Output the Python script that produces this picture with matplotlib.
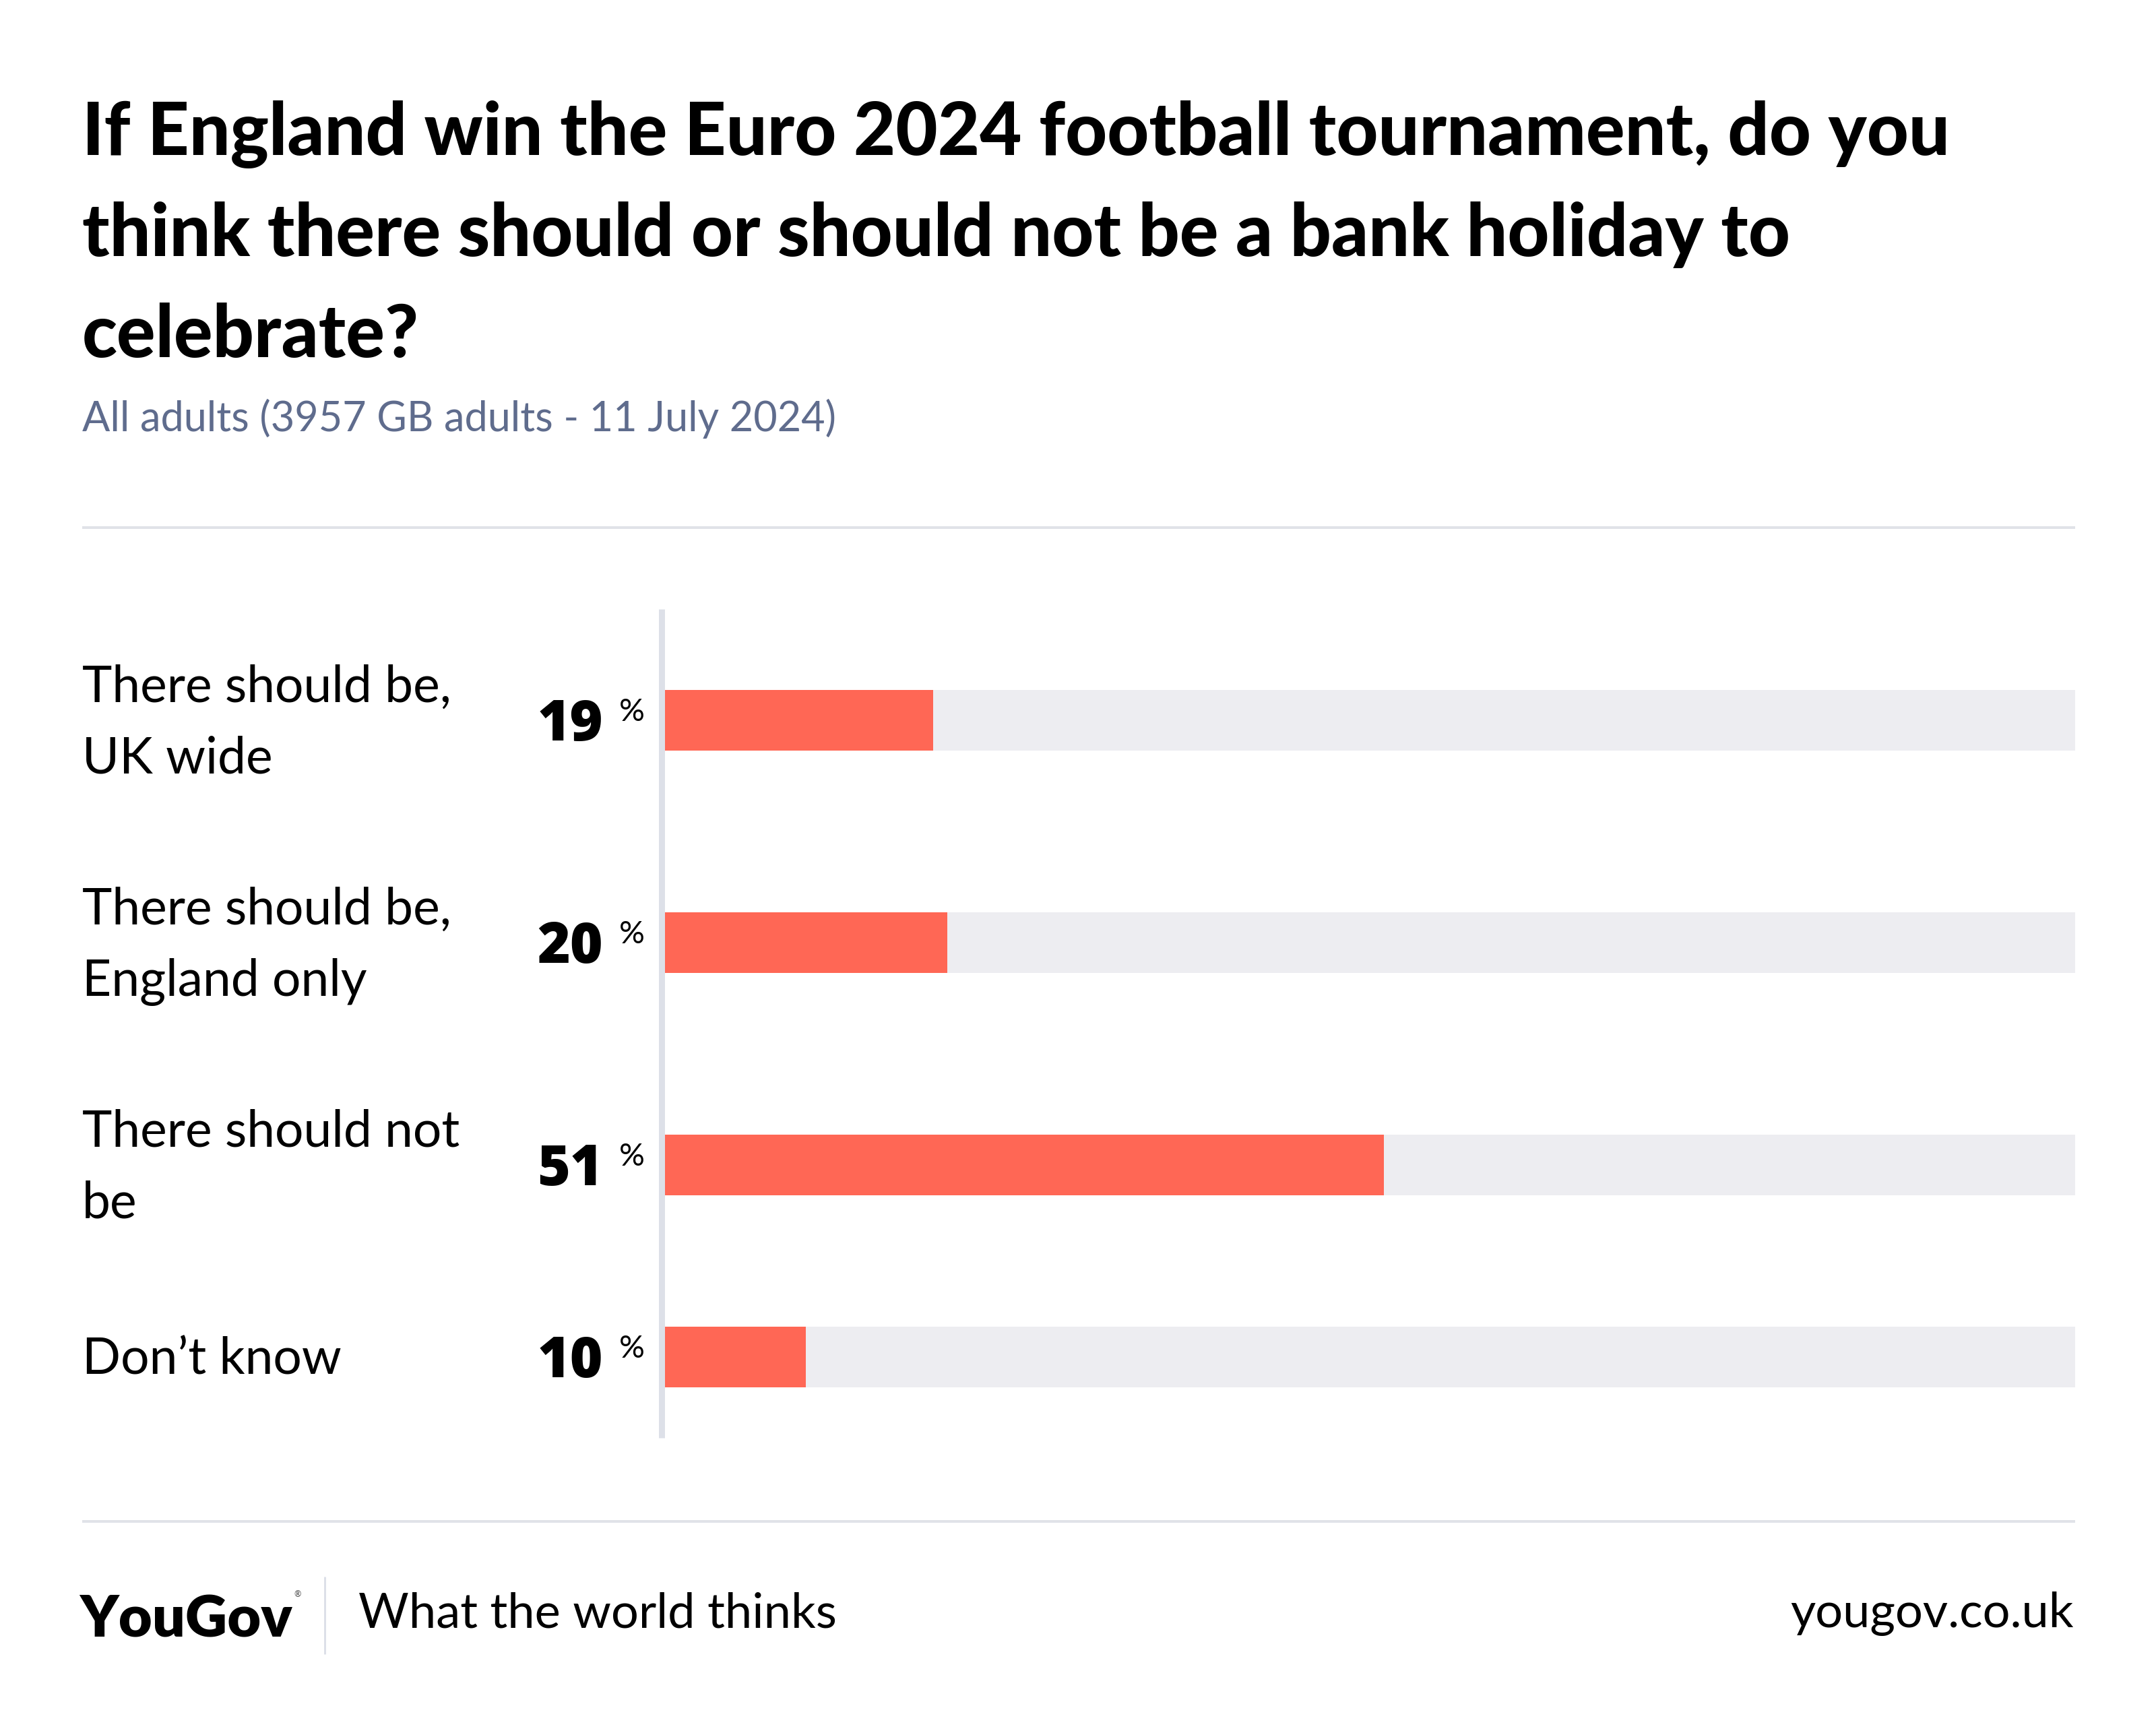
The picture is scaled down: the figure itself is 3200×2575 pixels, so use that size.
import matplotlib
matplotlib.use("Agg")
import matplotlib.pyplot as plt
from matplotlib.lines import Line2D
import numpy as np

# ---------------- data ----------------
categories = ["There should be,\nUK wide", "There should be,\nEngland only",
              "There should not\nbe", "Don\u2019t know"]
values = [19, 20, 51, 10]
title_lines = ["If England win the Euro 2024 football tournament, do you",
               "think there should or should not be a bank holiday to",
               "celebrate?"]
subtitle = "All adults (3957 GB adults - 11 July 2024)"
footer_left = "What the world thinks"
footer_right = "yougov.co.uk"
brand = "YouGov"

# ---------------- layout ----------------
W, H = 3200, 2575
DPI = 100
FONT = "Lato"
NUM_FONT = ["Open Sans", "Lato"]
BAR_COLOR = "#ff6755"
BG_COLOR = "#ededf1"
LINE_COLOR = "#e0e2e8"
SUB_COLOR = "#5f6c8d"

fig = plt.figure(figsize=(W / DPI, H / DPI), dpi=DPI)
fig.patch.set_facecolor("white")

def fx(px):
    return px / W

def fy(py):
    return 1 - py / H

def pt(px):
    return px * 72 / DPI

# Title
for i, line in enumerate(title_lines):
    fig.text(fx(122), fy(230 + 150 * i), line, fontsize=77.5, fontweight="black",
             family=FONT, color="black", ha="left", va="baseline")

fig.text(fx(122), fy(640), subtitle, fontsize=44, family=FONT, color=SUB_COLOR,
         ha="left", va="baseline")

# Separators
for y in (783, 2258):
    fig.add_artist(Line2D([fx(122), fx(3080)], [fy(y), fy(y)], color=LINE_COLOR,
                          lw=pt(4), solid_capstyle="butt"))

# Row geometry computed from number of label lines
n_lines = np.array([c.count("\n") + 1 for c in categories])
row_h = 150 + 90 * n_lines
row_top = np.concatenate([[0], np.cumsum(row_h)[:-1]])
centers = row_top + row_h / 2
total_h = row_h.sum()

top_px = 904
ax_left, ax_right = 987, 3080
ax = fig.add_axes([fx(ax_left), fy(top_px + total_h), fx(ax_right - ax_left), total_h / H])
ax.set_xlim(0, 100)
ax.set_ylim(total_h, 0)
ax.axis("off")

ax.barh(centers, [100] * len(values), height=90, color=BG_COLOR, linewidth=0)
ax.barh(centers, values, height=90, color=BAR_COLOR, linewidth=0)

# vertical axis line
fig.add_artist(Line2D([fx(982.5), fx(982.5)], [fy(top_px), fy(top_px + total_h)],
                      color="#dde0e8", lw=pt(9), solid_capstyle="butt"))

# Labels & values
for cat, v, c in zip(categories, values, centers):
    yc = top_px + c
    lines = cat.split("\n")
    k = len(lines)
    for j, ln in enumerate(lines):
        base = yc + 26 + (j - (k - 1) / 2) * 106
        fig.text(fx(122), fy(base), ln, fontsize=54, family=FONT, color="black",
                 ha="left", va="baseline")
    fig.text(fx(895), fy(yc + 30), f"{v}", fontsize=60, fontweight=800,
             family=NUM_FONT, color="black", ha="right", va="baseline")
    fig.text(fx(919), fy(yc - 33), "%", fontsize=34, family=FONT, color="black",
             ha="left", va="top")

# Footer
fig.text(fx(118), fy(2429), brand, fontsize=62, fontweight="heavy", family=FONT,
         color="black", ha="left", va="baseline")
fig.text(fx(436), fy(2360), "\u00ae", fontsize=9, family=FONT, color="#444444",
         ha="left", va="top")
fig.add_artist(Line2D([fx(482), fx(482)], [fy(2340), fy(2455)], color="#dde0e8",
                      lw=pt(3), solid_capstyle="butt"))
fig.text(fx(532), fy(2415), footer_left, fontsize=52, family=FONT, color="black",
         ha="left", va="baseline")
fig.text(fx(3078), fy(2415), footer_right, fontsize=52, family=FONT, color="black",
         ha="right", va="baseline")

fig.savefig("out.png", dpi=DPI, facecolor="white")
